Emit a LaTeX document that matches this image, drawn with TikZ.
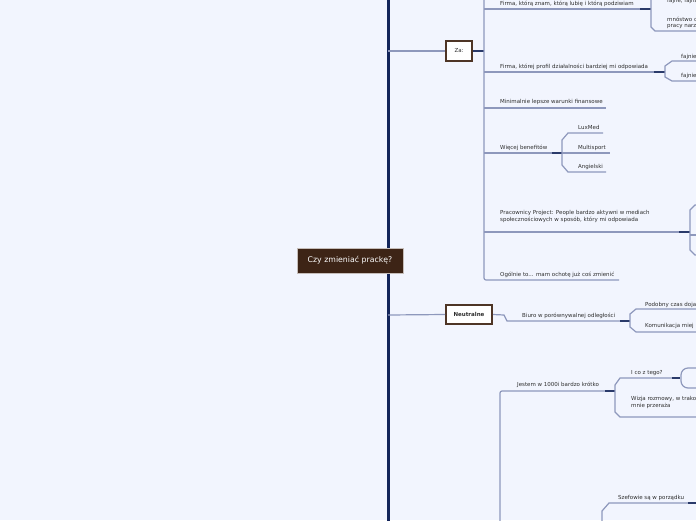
\documentclass[tikz,border=0pt]{standalone}
\usepackage{fontspec}
\setmainfont{DejaVu Sans}
\definecolor{bg}{HTML}{F2F5FE}
\definecolor{navy}{HTML}{13255A}
\definecolor{lineblue}{HTML}{8E98BC}
\definecolor{darkseg}{HTML}{2A3A6A}
\definecolor{rootbrown}{HTML}{3D2416}
\definecolor{boxbrd}{HTML}{4E3526}
\definecolor{txt}{HTML}{2E2E2E}
\begin{document}
\begin{tikzpicture}[x=1pt,y=-1pt,
  lbl/.style={anchor=base west, font=\fontsize{5.5}{6.7}\selectfont, text=txt, inner sep=0pt, align=left},
  br/.style={draw=lineblue, line width=1.2pt},
  ds/.style={draw=darkseg, line width=1.4pt},
  topicbox/.style={draw=boxbrd, line width=2pt, fill=white, inner sep=0pt, text=txt, font=\fontsize{5.5}{6.5}\selectfont}
]
\fill[bg] (0,0) rectangle (696,520);
\useasboundingbox (0,0) rectangle (696,520);
\begin{scope}
\clip (0,0) rectangle (696,520);
% main vertical
\coordinate (mtop) at (388,-10);
\coordinate (mbot) at (388,530);
\draw[navy, line width=3pt] (mtop) -- (mbot);
% root
\node[fill=rootbrown, draw=white!70!rootbrown, line width=0.4pt, text=white, minimum width=106pt, minimum height=25pt, inner sep=0pt, font=\fontsize{7.8}{9}\selectfont] (root) at (350,260.5) {Czy zmieniać prackę?};

% Za
\node[topicbox, minimum width=26pt, minimum height=20pt] (za) at (459,51) {Za:};
\coordinate (mza) at (388,51);
\draw[br] (mza) -- (za.west);
\coordinate (zj) at (484,51);
\draw[ds] (za.east) -- (zj);
\coordinate (ztop) at (484,-10);
\coordinate (z6a) at (484,280);
\coordinate (z6b) at (619,280);
\draw[br, rounded corners=2pt] (ztop) -- (z6a) -- (z6b);

% branch 1
\node[lbl] (b1) at (500,5) {Firma, którą znam, którą lubię i którą podziwiam};
\coordinate (b1a) at (484,9); \coordinate (b1b) at (640,9); \coordinate (b1c) at (651,9);
\draw[br] (b1a) -- (b1b); \draw[ds] (b1b) -- (b1c);
\coordinate (b1t) at (651,-10); \coordinate (b1d1) at (651,27); \coordinate (b1d2) at (655,31); \coordinate (b1d3) at (700,31);
\draw[br] (b1t) -- (b1d1) -- (b1d2) -- (b1d3);
\node[lbl] (b1x) at (667,2.5) {fajne, fajna};
\node[lbl] (b1y) at (667,21) {mnóstwo c};
\node[lbl] (b1z) at (667,27.5) {pracy narz};

% branch 2
\node[lbl] (b2) at (500,68) {Firma, której profil działalności bardziej mi odpowiada};
\coordinate (b2a) at (484,72); \coordinate (b2b) at (654,72); \coordinate (b2c) at (665,72);
\draw[br] (b2a) -- (b2b); \draw[ds] (b2b) -- (b2c);
\coordinate (b2u2) at (672,61); \coordinate (b2u1) at (665,66); \coordinate (b2l1) at (665,77); \coordinate (b2l2) at (672,81);
\coordinate (b2u3) at (700,61); \coordinate (b2l3) at (700,81);
\draw[br] (b2u3) -- (b2u2) -- (b2u1) -- (b2l1) -- (b2l2) -- (b2l3);
\node[lbl] (b2x) at (681,58) {fajnie};
\node[lbl] (b2y) at (681,77) {fajnie};

% branch 3
\node[lbl] (b3) at (500,103.5) {Minimalnie lepsze warunki finansowe};
\coordinate (b3a) at (484,108); \coordinate (b3b) at (606,108);
\draw[br] (b3a) -- (b3b);

% branch 4
\node[lbl] (b4) at (500,149) {Więcej benefitów};
\coordinate (b4a) at (484,153); \coordinate (b4b) at (552,153); \coordinate (b4c) at (562,153); \coordinate (b4d) at (610,153);
\draw[br] (b4a) -- (b4b); \draw[ds] (b4b) -- (b4c); \draw[br] (b4c) -- (b4d);
\coordinate (b4u3) at (603,133); \coordinate (b4u2) at (568,133); \coordinate (b4u1) at (562,140);
\coordinate (b4l1) at (562,165); \coordinate (b4l2) at (568,172); \coordinate (b4l3) at (606,172);
\draw[br] (b4u3) -- (b4u2) -- (b4u1) -- (b4l1) -- (b4l2) -- (b4l3);
\node[lbl] (lux) at (578,129.5) {LuxMed};
\node[lbl] (multi) at (578,149) {Multisport};
\node[lbl] (ang) at (578,168.5) {Angielski};

% branch 5
\node[lbl] (b5) at (500,221) {Pracownicy Project: People bardzo aktywni w mediach\\społecznościowych w sposób, który mi odpowiada};
\coordinate (b5a) at (484,232); \coordinate (b5b) at (679,232); \coordinate (b5c) at (690,232);
\draw[br] (b5a) -- (b5b); \draw[ds] (b5b) -- (b5c);
\coordinate (b5u3) at (700,205); \coordinate (b5u2) at (695,205); \coordinate (b5u1) at (690,210);
\coordinate (b5l1) at (690,250); \coordinate (b5l2) at (695,255); \coordinate (b5l3) at (700,255);
\draw[br] (b5u3) -- (b5u2) -- (b5u1) -- (b5l1) -- (b5l2) -- (b5l3);
\coordinate (b5m1) at (690,235); \coordinate (b5m2) at (700,235);
\draw[br] (b5m1) -- (b5m2);

% branch 6
\node[lbl] (b6) at (500,276) {Ogólnie to... mam ochotę już coś zmienić};

% Neutralne
\node[topicbox, minimum width=46pt, minimum height=19pt, font=\fontsize{5.5}{6.5}\selectfont\bfseries] (neu) at (469,314.5) {Neutralne};
\coordinate (mneu) at (388,315);
\draw[br] (mneu) -- (neu.west);
\coordinate (n1) at (504,315); \coordinate (n2) at (507,321); \coordinate (n3) at (620,321); \coordinate (n4) at (630,321);
\draw[br] (neu.east) -- (n1) -- (n2) -- (n3); \draw[ds] (n3) -- (n4);
\node[lbl] (biuro) at (522,317) {Biuro w porównywalnej odległości};
\coordinate (nu3) at (700,309); \coordinate (nu2) at (636,309); \coordinate (nu1) at (630,314);
\coordinate (nl1) at (630,327); \coordinate (nl2) at (636,332); \coordinate (nl3) at (700,332);
\draw[br] (nu3) -- (nu2) -- (nu1) -- (nl1) -- (nl2) -- (nl3);
\node[lbl] (pod) at (645,306) {Podobny czas doja};
\node[lbl] (kom) at (645,327) {Komunikacja miej};

% lower branch
\coordinate (p1) at (500,391); \coordinate (p0) at (500,530); \coordinate (p2) at (605,391); \coordinate (p3) at (615,391);
\draw[br, rounded corners=2pt] (p0) -- (p1) -- (p2); \draw[ds] (p2) -- (p3);
\node[lbl] (jest) at (517,386.5) {Jestem w 1000i bardzo krótko};
\coordinate (pu3) at (672,378); \coordinate (pu2) at (620,378); \coordinate (pu1) at (615,385);
\coordinate (pl1) at (615,412); \coordinate (pl2) at (620,417); \coordinate (pl3) at (700,417);
\draw[br] (pu3) -- (pu2) -- (pu1) -- (pl1) -- (pl2) -- (pl3);
\coordinate (pu4) at (680,378);
\draw[ds] (pu3) -- (pu4);
\coordinate (qa) at (700,368); \coordinate (qb) at (681,368); \coordinate (qc) at (681,388); \coordinate (qd) at (700,388);
\draw[br, rounded corners=7pt] (qa) -- (qb) -- (qc) -- (qd);
\node[lbl] (ico) at (631,374) {I co z tego?};
\node[lbl] (wiz) at (631,407) {Wizja rozmowy, w trako\\mnie przeraża};

% bottom
\coordinate (s0) at (602,530); \coordinate (s1) at (602,511); \coordinate (s2) at (609,503); \coordinate (s3) at (688,503); \coordinate (s4) at (700,503);
\draw[br] (s0) -- (s1) -- (s2) -- (s3); \draw[ds] (s3) -- (s4);
\node[lbl] (szef) at (618,499) {Szefowie są w porządku};
\end{scope}
\end{tikzpicture}
\end{document}
